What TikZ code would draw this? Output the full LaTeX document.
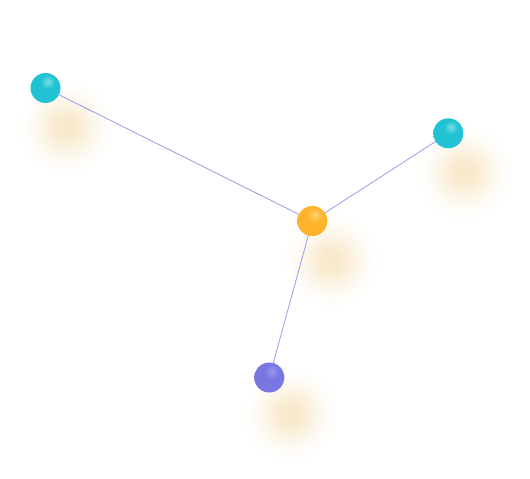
\documentclass[tikz,border=0pt]{standalone}
\definecolor{edgec}{RGB}{158,152,238}
\definecolor{cyanb}{RGB}{32,194,212}
\definecolor{cyanh}{RGB}{122,222,228}
\definecolor{orab}{RGB}{255,178,44}
\definecolor{orah}{RGB}{255,210,112}
\definecolor{purb}{RGB}{121,118,226}
\definecolor{purh}{RGB}{152,150,238}
\definecolor{glow}{RGB}{246,225,184}
\pgfdeclareradialshading{glowshade}{\pgfpoint{0bp}{0bp}}{color(0bp)=(glow!78!white); color(6bp)=(glow!65!white); color(12bp)=(glow!36!white); color(18bp)=(glow!12!white); color(22bp)=(glow!3!white); color(25bp)=(white); color(100bp)=(white)}
\pgfdeclareradialshading{cyanball}{\pgfpoint{4.5bp}{11bp}}{color(0bp)=(cyanh); color(12bp)=(cyanb); color(100bp)=(cyanb)}
\pgfdeclareradialshading{oraball}{\pgfpoint{4.5bp}{11bp}}{color(0bp)=(orah); color(13bp)=(orab); color(100bp)=(orab)}
\pgfdeclareradialshading{purball}{\pgfpoint{4.5bp}{11bp}}{color(0bp)=(purh); color(13bp)=(purb); color(100bp)=(purb)}
\tikzset{
  ball/.style={circle, minimum size=30pt, inner sep=0pt, draw=none},
  glowspot/.style={circle, minimum size=100pt, inner sep=0pt, draw=none, shading=glowshade},
  link/.style={draw=edgec, line width=0.8pt}
}
\begin{document}
\begin{tikzpicture}[x=1pt, y=-1pt]
\useasboundingbox (0,0) rectangle (530,479);
% glows
\node[glowspot] (ga) at (66,127) {};
\node[glowspot] (gb) at (464,172) {};
\node[glowspot] (gc) at (331,260) {};
\node[glowspot] (gd) at (290,414) {};
% node positions
\coordinate (pa) at (45.5,88);
\coordinate (pb) at (448.3,133.3);
\coordinate (pc) at (312.3,221);
\coordinate (pd) at (269.3,377.5);
% links
\draw[link] (pc) -- (pa);
\draw[link] (pc) -- (pb);
\draw[link] (pc) -- (pd);
% balls
\node[ball, shading=cyanball] (a) at (pa) {};
\node[ball, shading=cyanball] (b) at (pb) {};
\node[ball, shading=oraball] (c) at (pc) {};
\node[ball, shading=purball] (d) at (pd) {};
\end{tikzpicture}
\end{document}
